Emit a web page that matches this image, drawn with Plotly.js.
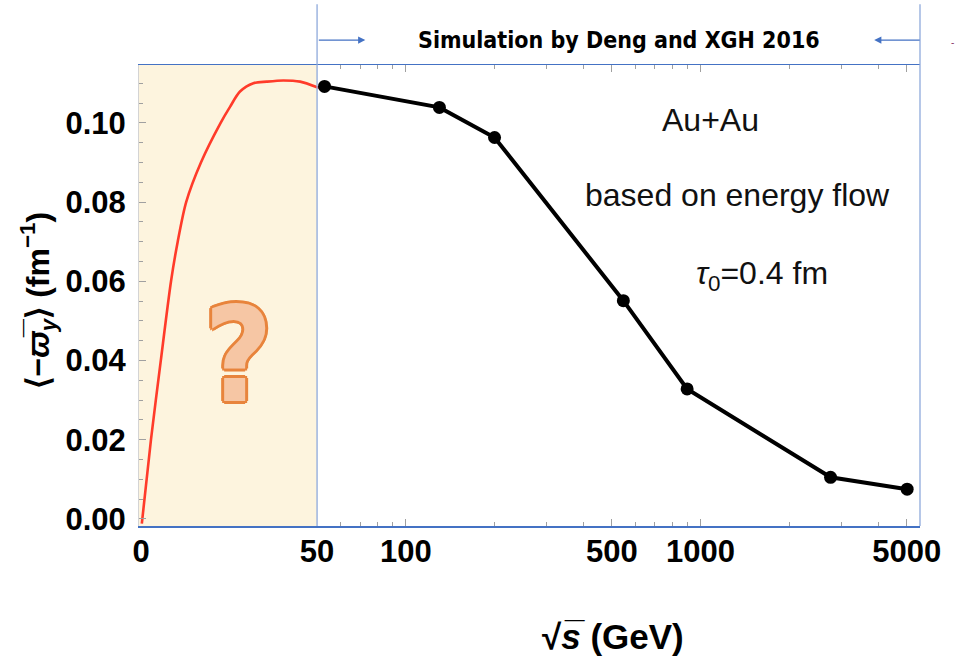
<!DOCTYPE html>
<html>
<head>
<meta charset="utf-8">
<script src="https://cdn.plot.ly/plotly-3.0.1.min.js"></script>
<style>
  html, body { margin: 0; padding: 0; background: #ffffff; }
  #chart { width: 956px; height: 672px; }
</style>
</head>
<body>
<div id="chart"></div>
<script>
// Low-energy region: schematic rise of the vorticity (linear sqrt(s) scale, 0–50 GeV)
const lowEnergyX = [0.2, 2.8, 5.6, 8.5, 10.4, 12.8, 17.0, 22.6, 25.3, 28.1, 31.9, 35.7, 40.4, 45.2, 50];
const lowEnergyY = [-0.0012, 0.0200, 0.0400, 0.0600, 0.0700, 0.0800, 0.0900, 0.1000, 0.1041, 0.1079, 0.1100, 0.1104, 0.1107, 0.1104, 0.1090];

// Short continuation of the red curve up to the first simulated point (log scale)
const joinX = [50, 53];
const joinY = [0.1090, 0.1088];

// Simulated Au+Au points (log sqrt(s) scale, GeV)
const simSqrtS = [53, 130, 200, 547, 900, 2760, 5020];
const simOmega = [0.1092, 0.1039, 0.0963, 0.0551, 0.0328, 0.0105, 0.0075];

// Axis ticks
const yTickVals = [0.00, 0.02, 0.04, 0.06, 0.08, 0.10];
const yTickText = ['0.00', '0.02', '0.04', '0.06', '0.08', '0.10'];
const linTickVals = [0];
const linTickText = ['0'];
const logTickVals = [50, 100, 500, 1000, 5000];
const logTickText = ['50', '100', '500', '1000', '5000'];
const logMinorVals = [60, 70, 80, 90, 200, 300, 400, 600, 700, 800, 900, 2000, 3000, 4000];

const BLUE = '#4472c4';
const LIGHTBLUE = '#8ea9db';
const TICKGRAY = '#a0a0a0';
const SANS = '"Liberation Sans", Arial, Helvetica, sans-serif';
const COND = '"DejaVu Sans Condensed", "DejaVu Sans", sans-serif';
const SPLIT = 0.228;

const traces = [
  {
    x: lowEnergyX, y: lowEnergyY, xaxis: 'x', yaxis: 'y',
    mode: 'lines', line: { color: '#ff3b2a', width: 2.6, shape: 'spline', smoothing: 0.8 },
    hoverinfo: 'skip', showlegend: false
  },
  {
    x: joinX, y: joinY, xaxis: 'x2', yaxis: 'y',
    mode: 'lines', line: { color: '#ff3b2a', width: 2.6 },
    hoverinfo: 'skip', showlegend: false
  },
  {
    x: simSqrtS, y: simOmega, xaxis: 'x2', yaxis: 'y',
    mode: 'lines+markers',
    line: { color: '#000000', width: 4 },
    marker: { color: '#000000', size: 13 },
    showlegend: false
  }
];

const tickFont = { family: SANS, size: 31, color: '#000000', weight: 700 };

const layout = {
  width: 956, height: 672,
  margin: { l: 139, r: 36, t: 65, b: 146, pad: 0 },
  paper_bgcolor: '#ffffff', plot_bgcolor: '#ffffff',
  showlegend: false,
  xaxis: {
    domain: [0, SPLIT], range: [-0.6, 50], anchor: 'y',
    tickmode: 'array', tickvals: linTickVals, ticktext: linTickText,
    ticks: '', showgrid: false, zeroline: false,
    showline: true, linecolor: BLUE, linewidth: 1.5, mirror: true,
    tickfont: tickFont, ticklabelstandoff: -3
  },
  xaxis2: {
    domain: [SPLIT, 1], type: 'log', range: [Math.log10(50), Math.log10(5550)], anchor: 'y',
    tickmode: 'array', tickvals: logTickVals, ticktext: logTickText,
    ticks: 'inside', ticklen: 7, tickwidth: 1, tickcolor: TICKGRAY,
    minor: { tickvals: logMinorVals, ticks: 'inside', ticklen: 4, tickcolor: TICKGRAY, showgrid: false },
    showgrid: false, zeroline: false,
    showline: true, linecolor: BLUE, linewidth: 1.5, mirror: 'ticks',
    tickfont: tickFont, ticklabelstandoff: -3
  },
  yaxis: {
    range: [-0.0018, 0.1146], anchor: 'x',
    tickmode: 'array', tickvals: yTickVals, ticktext: yTickText,
    ticks: 'inside', ticklen: 7, tickwidth: 1, tickcolor: TICKGRAY,
    minor: { dtick: 0.005, ticks: 'inside', ticklen: 4, tickcolor: TICKGRAY, showgrid: false },
    showgrid: false, zeroline: false,
    showline: true, linecolor: '#d4d4d4', linewidth: 1,
    tickfont: tickFont, ticklabelstandoff: 6
  },
  yaxis2: {
    overlaying: 'y', matches: 'y', anchor: 'x2', side: 'right',
    tickmode: 'array', tickvals: yTickVals,
    ticks: 'inside', ticklen: 7, tickwidth: 1, tickcolor: TICKGRAY,
    minor: { dtick: 0.005, ticks: 'inside', ticklen: 4, tickcolor: TICKGRAY, showgrid: false },
    showticklabels: false, showgrid: false, zeroline: false, showline: false
  },
  shapes: [
    // shaded low-energy band
    { type: 'rect', xref: 'x domain', yref: 'y domain', x0: 0, x1: 1, y0: 0, y1: 1,
      fillcolor: '#fdf4de', line: { width: 0 }, layer: 'below' },
    // boundaries of the simulated range
    { type: 'line', xref: 'x2 domain', yref: 'paper', x0: 0, x1: 0, y0: 0, y1: 1.132,
      line: { color: LIGHTBLUE, width: 1.3 } },
    { type: 'line', xref: 'x2 domain', yref: 'paper', x0: 1, x1: 1, y0: 0, y1: 1.132,
      line: { color: LIGHTBLUE, width: 1.3 } }
  ],
  annotations: [
    { xref: 'x2 domain', yref: 'paper', x: 0.5, y: 1.054, xanchor: 'center', yanchor: 'middle',
      text: '<b>Simulation by Deng and XGH 2016</b>', showarrow: false,
      font: { family: COND, size: 23, color: '#000000' } },
    { xref: 'x2 domain', yref: 'paper', x: 0.08, y: 1.054,
      ax: -48, ay: 0, showarrow: true, arrowhead: 2, arrowsize: 1.2, arrowwidth: 1.2,
      arrowcolor: BLUE, text: '', standoff: 0 },
    { xref: 'x2 domain', yref: 'paper', x: 0.924, y: 1.054, ax: 47, ay: 0,
      showarrow: true, arrowhead: 2, arrowsize: 1.2, arrowwidth: 1.2,
      arrowcolor: BLUE, text: '', standoff: 0 },
    { xref: 'paper', yref: 'paper', x: 1.046, y: 1.066, text: '-', showarrow: false,
      font: { family: SANS, size: 10, color: '#8a3a6a' } },
    { xref: 'x2 domain', yref: 'paper', x: 0.652, y: 0.881, text: 'Au+Au', showarrow: false,
      xanchor: 'center', yanchor: 'middle',
      font: { family: SANS, size: 32, color: '#111111' } },
    { xref: 'x2 domain', yref: 'paper', x: 0.697, y: 0.718, text: 'based on energy flow', showarrow: false,
      xanchor: 'center', yanchor: 'middle',
      font: { family: SANS, size: 32, color: '#111111' } },
    { xref: 'x2 domain', yref: 'paper', x: 0.738, y: 0.544, text: '<i>τ</i><sub>0</sub>=0.4 fm', showarrow: false,
      xanchor: 'center', yanchor: 'middle',
      font: { family: SANS, size: 32, color: '#111111' } },
    { xref: 'x domain', yref: 'paper', x: 0.556, y: 0.371, text: '<b>?</b>', showarrow: false,
      xanchor: 'center', yanchor: 'middle',
      font: { family: COND, size: 132, color: '#f6c6a4',
        shadow: '3px 0 0 #e8843c, -3px 0 0 #e8843c, 0 3px 0 #e8843c, 0 -3px 0 #e8843c, 2px 2px 0 #e8843c, -2px -2px 0 #e8843c, 2px -2px 0 #e8843c, -2px 2px 0 #e8843c' } },
    // axis titles
    { xref: 'x2 domain', yref: 'paper', x: 0.49, y: -0.239, xanchor: 'center', yanchor: 'middle',
      text: '<b>√<i>s̅</i> (GeV)</b>', showarrow: false,
      font: { family: SANS, size: 35, color: '#000000' } },
    { xref: 'paper', yref: 'paper', x: -0.13, y: 0.49, xanchor: 'center', yanchor: 'middle',
      textangle: -90, text: '<b>⟨−<i>ϖ̅</i><sub><i>y</i></sub>⟩ (fm<sup>−1</sup>)</b>', showarrow: false,
      font: { family: SANS, size: 32, color: '#000000' } }
  ]
};

Plotly.newPlot('chart', traces, layout, { displayModeBar: false, staticPlot: true });
</script>
</body>
</html>
